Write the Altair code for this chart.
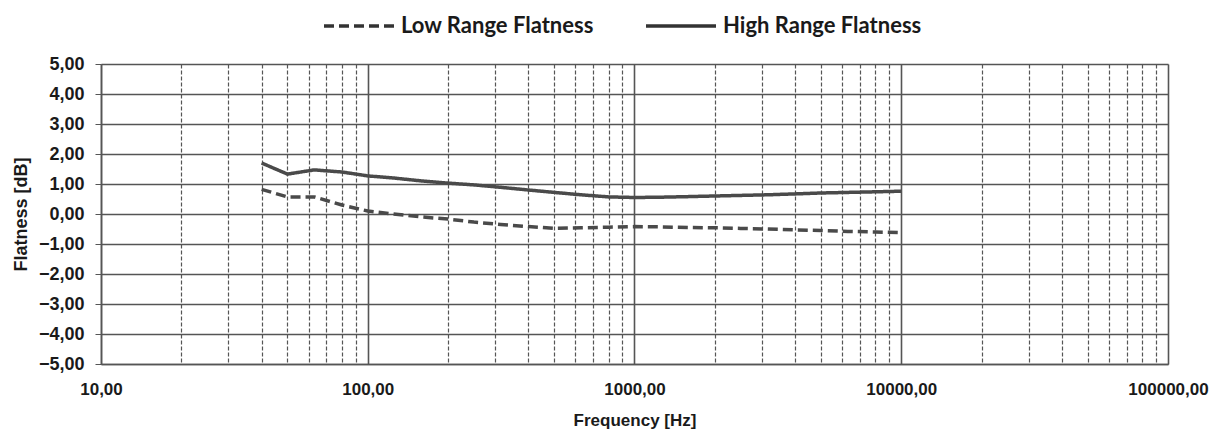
import altair as alt
import pandas as pd

freqs = [40, 50, 63, 80, 100, 125, 160, 200, 250, 315, 400, 500, 630, 800,
         1000, 1250, 1600, 2000, 2500, 3150, 4000, 5000, 6300, 8000, 10000]
low_flatness = [0.82, 0.57, 0.57, 0.30, 0.10, 0.00, -0.10, -0.17, -0.27, -0.35,
                -0.42, -0.48, -0.46, -0.44, -0.42, -0.43, -0.45, -0.46, -0.48,
                -0.50, -0.53, -0.55, -0.58, -0.60, -0.62]
high_flatness = [1.70, 1.33, 1.47, 1.40, 1.27, 1.20, 1.10, 1.03, 0.97, 0.89,
                 0.80, 0.72, 0.64, 0.57, 0.55, 0.56, 0.58, 0.60, 0.62, 0.64,
                 0.67, 0.70, 0.72, 0.74, 0.76]
series_names = ["Low Range Flatness", "High Range Flatness"]
x_ticks = [m * 10 ** e for e in range(1, 5) for m in range(1, 10)] + [100000]
y_ticks = list(range(-5, 6))

rows = []
for f, v in zip(freqs, low_flatness):
    rows.append({"freq": f, "val": v, "series": series_names[0]})
for f, v in zip(freqs, high_flatness):
    rows.append({"freq": f, "val": v, "series": series_names[1]})
df = pd.DataFrame(rows)

is_decade = "abs(log(datum.value)/LN10 - round(log(datum.value)/LN10)) < 0.001"
comma_fmt = "replace(format(datum.value, '.2f'), '.', ',')"

chart = alt.Chart(df).mark_line(color="#4a4a4a", strokeWidth=3.5).encode(
    x=alt.X(
        "freq:Q",
        scale=alt.Scale(type="log", domain=[10, 100000], nice=False),
        axis=alt.Axis(
            values=x_ticks,
            labelExpr=f"{is_decade} ? {comma_fmt} : ''",
            title="Frequency [Hz]",
            ticks=False,
            labelPadding=17,
            labelFont="Liberation Sans",
            labelFontSize=17,
            labelFontWeight="bold",
            labelColor="#1a1a1a",
            labelFlush=False,
            labelOverlap=False,
            titleFont="Liberation Sans",
            titleFontSize=17,
            titleFontWeight="bold",
            titleColor="#1a1a1a",
            titlePadding=15,
            grid=True,
            gridColor="#555555",
            gridWidth={"condition": {"test": is_decade, "value": 1.6}, "value": 1.2},
            gridDash={"condition": {"test": is_decade, "value": []}, "value": [4, 2]},
            domain=True,
            domainColor="#555555",
            domainWidth=1.5,
        ),
    ),
    y=alt.Y(
        "val:Q",
        scale=alt.Scale(domain=[-5, 5], nice=False),
        axis=alt.Axis(
            values=y_ticks,
            labelExpr=comma_fmt,
            title="Flatness [dB]",
            tickSize=6,
            tickColor="#555555",
            labelPadding=11,
            labelFont="Liberation Sans",
            labelFontSize=18,
            labelFontWeight="bold",
            labelColor="#1a1a1a",
            titleFont="Liberation Sans",
            titleFontSize=18,
            titleFontWeight="bold",
            titleColor="#1a1a1a",
            titlePadding=8,
            grid=True,
            gridColor="#555555",
            gridWidth=1.6,
            domain=True,
            domainColor="#555555",
            domainWidth=1.5,
        ),
    ),
    strokeDash=alt.StrokeDash(
        "series:N",
        scale=alt.Scale(domain=series_names, range=[[10, 5], [1, 0]]),
        legend=alt.Legend(
            title=None,
            orient="none",
            legendX=221,
            legendY=-75,
            direction="horizontal",
            columns=2,
            symbolType="stroke",
            symbolSize=4900,
            symbolStrokeWidth=3.5,
            symbolStrokeColor="#333333",
            labelFont="Lato",
            labelFontSize=22,
            labelFontWeight="bold",
            labelColor="#1a1a1a",
            labelOffset=5,
            labelLimit=400,
            columnPadding=45,
        ),
    ),
    order="freq:Q",
).properties(
    width=1067,
    height=300,
    autosize=alt.AutoSizeParams(type="none"),
    padding={"left": 101, "top": 64, "right": 55, "bottom": 77},
).configure_view(
    stroke="#555555", strokeWidth=1.5, fill="white"
).configure(background="white")

chart.save("out.html", embed_options={"renderer": "svg", "actions": False})
